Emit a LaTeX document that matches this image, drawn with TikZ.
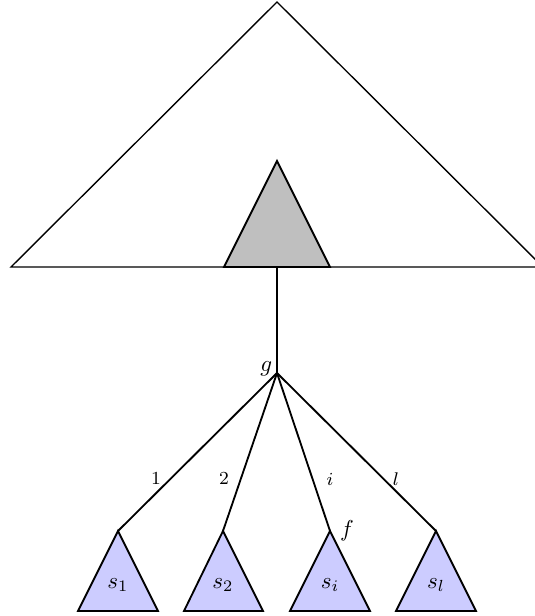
\documentclass[tikz,border=0pt]{standalone}
\begin{document}
\begin{tikzpicture}[x=0.435pt,y=-0.435pt,
  bigtri/.style={draw=black,line width=0.6pt,line join=miter},
  graytri/.style={draw=black,fill=gray!50,line width=0.8pt},
  subtri/.style={draw=black,fill=blue!20,line width=0.8pt},
  edge/.style={draw=black,line width=0.8pt},
  elabel/.style={font=\footnotesize,inner sep=1pt}]
\useasboundingbox (0,0) rectangle (535,616);
% big tree
\coordinate (top) at (277,2);
\coordinate (bl) at (11,267);
\coordinate (br) at (543,267);
\draw[bigtri] (top) -- (bl) -- (br) -- cycle;
% gray subtree
\coordinate (gtop) at (277,161);
\coordinate (gl) at (224,267);
\coordinate (gr) at (330,267);
\draw[graytri] (gtop) -- (gl) -- (gr) -- cycle;
% root link
\coordinate (groot) at (277,267);
\coordinate (g) at (277,373);
\draw[edge] (groot) -- (g);
\node[anchor=east,inner sep=1pt] (glab) at (275,369) {$g$};
% children apexes
\coordinate (c1) at (118,531);
\coordinate (c2) at (223,531);
\coordinate (c3) at (330,531);
\coordinate (c4) at (436,531);
\draw[edge] (g) -- (c1);
\draw[edge] (g) -- (c2);
\draw[edge] (g) -- (c3);
\draw[edge] (g) -- (c4);
\node[elabel] (l1) at (156,479) {$1$};
\node[elabel] (l2) at (224,479) {$2$};
\node[elabel] (l3) at (330,479) {$i$};
\node[elabel] (l4) at (396,479) {$l$};
\node[inner sep=1pt] (flab) at (347,531) {$f$};
% subtrees
\draw[subtri] (c1) -- (78,611) -- (158,611) -- cycle;
\draw[subtri] (c2) -- (184,611) -- (263,611) -- cycle;
\draw[subtri] (c3) -- (290,611) -- (370,611) -- cycle;
\draw[subtri] (c4) -- (396,611) -- (476,611) -- cycle;
\node (s1) at (118,585) {$s_1$};
\node (s2) at (223,585) {$s_2$};
\node (s3) at (330,585) {$s_i$};
\node (s4) at (436,585) {$s_l$};
\end{tikzpicture}
\end{document}
